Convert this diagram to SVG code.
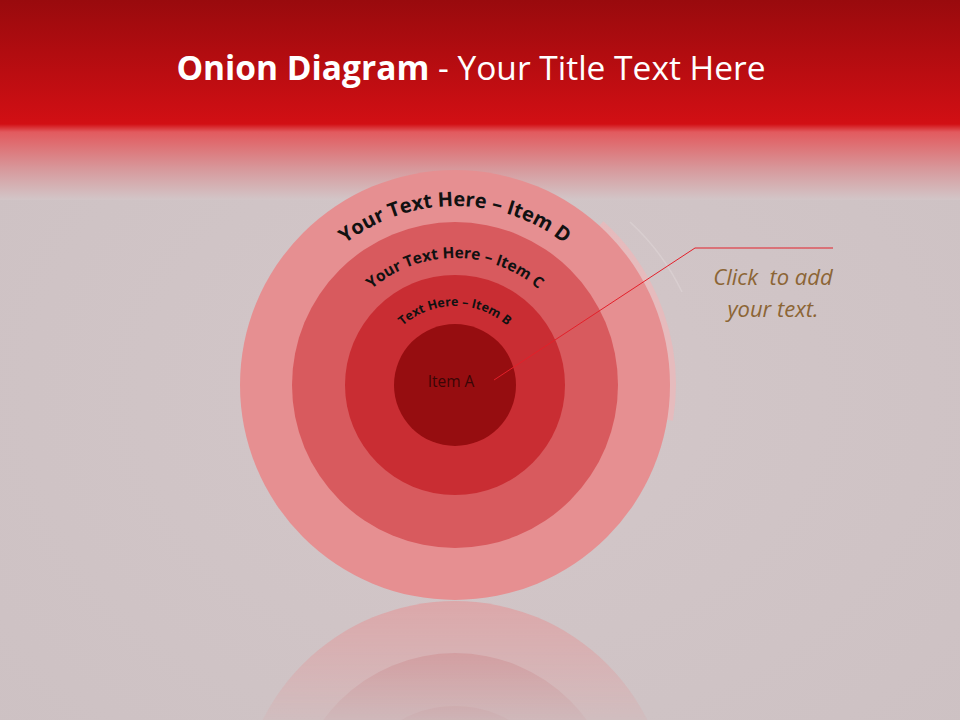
<svg xmlns="http://www.w3.org/2000/svg" width="960" height="720" viewBox="0 0 960 720">
<defs>
<linearGradient id="hdr" x1="0" y1="0" x2="0" y2="1">
<stop offset="0" stop-color="#990a0d"/>
<stop offset="0.62" stop-color="#d20f14"/>
<stop offset="0.66" stop-color="#e25a5e"/>
<stop offset="0.85" stop-color="#d79a9d"/>
<stop offset="1" stop-color="#d2c6c8"/>
</linearGradient>
<radialGradient id="bg" cx="0.5" cy="0.55" r="0.7">
<stop offset="0" stop-color="#d3c7c9"/>
<stop offset="1" stop-color="#cdc1c3"/>
</radialGradient>
<linearGradient id="refl" x1="0" y1="0" x2="0" y2="1">
<stop offset="0" stop-color="#fff" stop-opacity="0.55"/>
<stop offset="1" stop-color="#fff" stop-opacity="0.1"/>
</linearGradient>
<mask id="reflMask"><rect x="0" y="600" width="960" height="120" fill="url(#refl)"/></mask>
<path id="arcD" d="M 276,385 A 179,179 0 0 1 634,385"/>
<path id="arcC" d="M 328,385 A 127,127 0 0 1 582,385"/>
<path id="arcB" d="M 376,385 A 79,79 0 0 1 534,385"/>
</defs>
<style>
.ring{stroke:none}
.curve{font-family:"Open Sans","Liberation Sans",sans-serif;font-weight:bold;fill:#111}
.callout{font-family:"Open Sans","Liberation Sans",sans-serif;font-style:italic;font-size:22px;fill:#8c6535}
</style>
<rect width="960" height="720" fill="url(#bg)"/>
<rect width="960" height="200" fill="url(#hdr)"/>
<text x="471" y="80" text-anchor="middle" font-family="Open Sans, Liberation Sans, sans-serif" font-size="33.5" fill="#fff"><tspan font-weight="bold">Onion Diagram</tspan> - Your Title Text Here</text>
<g id="reflection" mask="url(#reflMask)">
<circle cx="455" cy="816" r="215" fill="#e68f91"/>
<circle cx="455" cy="816" r="163" fill="#d85a5e"/>
<circle cx="455" cy="816" r="110" fill="#c92d33"/>
</g>
<path d="M 600,225 A 215,215 0 0 1 668,420" fill="none" stroke="#f3b4b6" stroke-width="10" opacity="0.6"/>
<path d="M 630,222 A 230,230 0 0 1 682,292" fill="none" stroke="#ece6e4" stroke-width="1.5" opacity="0.3"/>
<g id="itemD"><circle class="ring" cx="455" cy="385" r="215" fill="#e68f91" stroke="#c46a6c" stroke-width="0.8"/>
<text class="curve" font-size="20"><textPath href="#arcD" startOffset="50%" text-anchor="middle">Your Text Here – Item D</textPath></text></g>
<g id="itemC"><circle class="ring" cx="455" cy="385" r="163" fill="#d85a5e"/>
<text class="curve" font-size="15.5"><textPath href="#arcC" startOffset="50%" text-anchor="middle">Your Text Here – Item C</textPath></text></g>
<g id="itemB"><circle class="ring" cx="455" cy="385" r="110" fill="#c92d33"/>
<text class="curve" font-size="12.5"><textPath href="#arcB" startOffset="50%" text-anchor="middle">Text Here – Item B</textPath></text></g>
<g id="itemA"><circle class="ring" cx="455" cy="385" r="61" fill="#960d10"/>
<text x="451" y="387" text-anchor="middle" font-family="Open Sans, Liberation Sans, sans-serif" font-size="15.5" fill="#3a0606">Item A</text></g>
<g id="connectors"><polyline points="494,380 695,248 833,248" fill="none" stroke="#e3202a" stroke-width="1"/></g>
<g id="callout">
<text class="callout" x="773" y="285" text-anchor="middle">Click&#160; to add</text>
<text class="callout" x="773" y="317" text-anchor="middle">your text.</text>
</g>
</svg>
